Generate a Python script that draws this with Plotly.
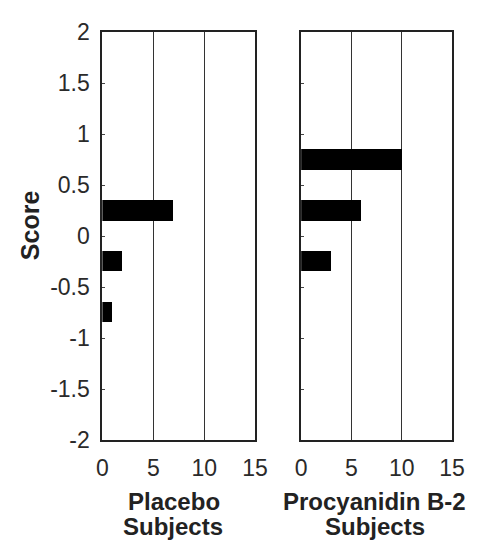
import plotly.graph_objects as go

scores = [0.75, 0.25, -0.25, -0.75]
placebo_counts = [0, 7, 2, 1]
procyanidin_counts = [10, 6, 3, 0]
x_ticks = [0, 5, 10, 15]
y_ticks = [-2, -1.5, -1, -0.5, 0, 0.5, 1, 1.5, 2]
y_tick_labels = ["-2", "-1.5", "-1", "-0.5", "0", "0.5", "1", "1.5", "2"]
panel_title_lines = [["Placebo", "Subjects"], ["Procyanidin B-2", "Subjects"]]
y_title = "Score"

# page body has an 8px margin; work in page pixels and subtract it
OFF = 8
W, H = 489 - OFF, 554 - OFF
FONT = "Liberation Sans, Arial, sans-serif"
TXT = "#2a2a2a"


def px_x(p):
    return (p - OFF) / W


def px_y(p):
    return 1 - (p - OFF) / H


fig = go.Figure()
fig.add_trace(go.Bar(x=placebo_counts, y=scores, orientation="h", width=0.2,
                     marker=dict(color="black", line=dict(width=0)),
                     xaxis="x", yaxis="y", showlegend=False))
fig.add_trace(go.Bar(x=procyanidin_counts, y=scores, orientation="h", width=0.2,
                     marker=dict(color="black", line=dict(width=0)),
                     xaxis="x2", yaxis="y2", showlegend=False))

xdom1 = [px_x(100), px_x(259)]
xdom2 = [px_x(307), px_x(464)]
ydom = [px_y(448), px_y(20)]

xax = dict(range=[0, 15], tickvals=x_ticks, showgrid=True, gridcolor="#333", gridwidth=1,
           showline=True, mirror=True, linecolor="#222", linewidth=2, ticks="",
           ticklabelstandoff=6, ticklabeloverflow="allow",
           zeroline=False, tickfont=dict(family=FONT, size=23, color=TXT), fixedrange=True)
yax = dict(range=[-2, 2], tickvals=y_ticks, ticktext=y_tick_labels, showgrid=False,
           showline=True, mirror=True, linecolor="#222", linewidth=2,
           ticks="inside", ticklen=3, tickcolor="#444", zeroline=False,
           ticklabelstandoff=6, ticklabeloverflow="allow",
           tickfont=dict(family=FONT, size=23, color=TXT), fixedrange=True)

fig.update_layout(
    width=W, height=H, margin=dict(l=0, r=0, t=0, b=0),
    paper_bgcolor="white", plot_bgcolor="white", bargap=0,
    xaxis=dict(xax, domain=xdom1, anchor="y"),
    yaxis=dict(yax, domain=ydom, anchor="x"),
    xaxis2=dict(xax, domain=xdom2, anchor="y2"),
    yaxis2=dict(yax, domain=ydom, anchor="x2", showticklabels=False),
)

fig.add_annotation(text="<b>" + y_title + "</b>", x=px_x(24), y=px_y(222), xref="paper", yref="paper",
                   textangle=-90, showarrow=False, xanchor="center", yanchor="middle",
                   font=dict(family=FONT, size=25, color="#222"))
for lines, cxs in zip(panel_title_lines, [(175, 174), (383.5, 384)]):
    for line, cx, cy in zip(lines, cxs, (512, 539)):
        fig.add_annotation(text="<b>" + line + "</b>", x=px_x(cx), y=px_y(cy),
                           xref="paper", yref="paper", showarrow=False,
                           xanchor="center", yanchor="middle",
                           font=dict(family=FONT, size=24, color="#222"))

fig.write_html("out.html")
